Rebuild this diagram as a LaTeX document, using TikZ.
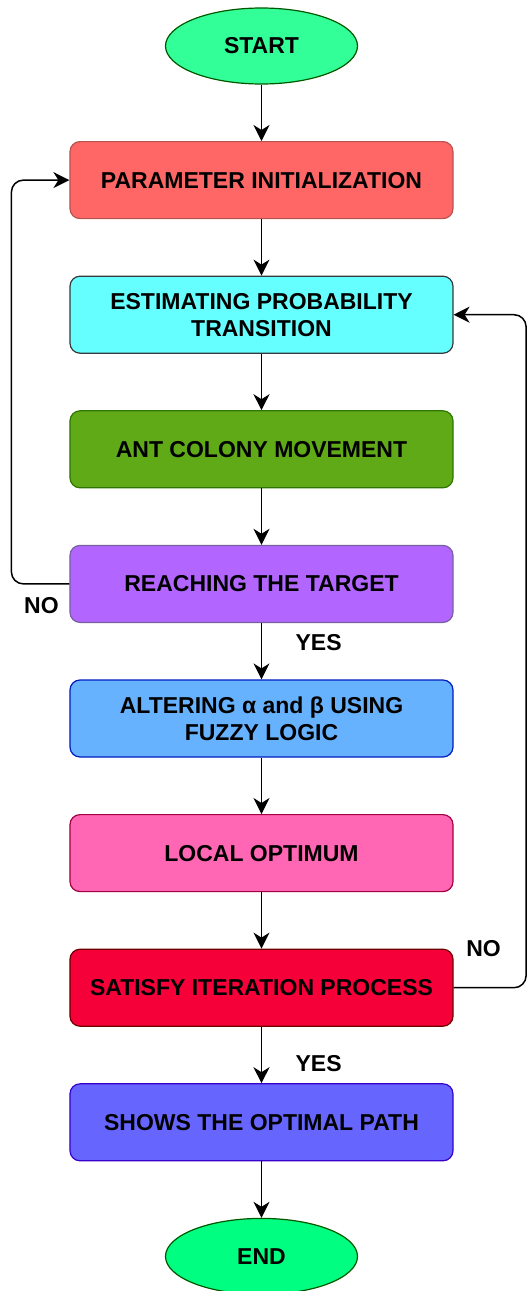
\documentclass[tikz,border=0pt]{standalone}
\usepackage{fontspec}
\setmainfont{Liberation Sans}
\usepackage{xcolor}
\usetikzlibrary{shapes.geometric, arrows.meta, positioning, calc}

\definecolor{termfill}{HTML}{33FF99}
\definecolor{endfill}{HTML}{00FF80}
\definecolor{termline}{HTML}{005700}
\definecolor{paramfill}{HTML}{FF6666}
\definecolor{paramline}{HTML}{B85450}
\definecolor{estfill}{HTML}{66FFFF}
\definecolor{estline}{HTML}{36393D}
\definecolor{antfill}{HTML}{60A917}
\definecolor{antline}{HTML}{2D7600}
\definecolor{reachfill}{HTML}{B266FF}
\definecolor{reachline}{HTML}{7760A0}
\definecolor{alterfill}{HTML}{66B2FF}
\definecolor{alterline}{HTML}{001DBC}
\definecolor{localfill}{HTML}{FF66B3}
\definecolor{localline}{HTML}{A50040}
\definecolor{satfill}{HTML}{F50038}
\definecolor{satline}{HTML}{6F0000}
\definecolor{showfill}{HTML}{6666FF}
\definecolor{showline}{HTML}{3700CC}

\begin{document}
\begin{tikzpicture}[
  node distance=56.4pt,
  box/.style  = {rectangle, rounded corners=10pt, line width=1.2pt,
                 font=\bfseries\fontsize{23}{27}\selectfont,
                 minimum height=77pt, minimum width=383pt, align=center},
  term/.style = {ellipse, line width=1.2pt, draw=termline,
                 font=\bfseries\fontsize{23}{27}\selectfont,
                 minimum height=76pt, minimum width=192pt, inner sep=0pt},
  arr/.style  = {-{Stealth[length=16pt,width=16pt,inset=5pt]}, line width=1.5pt, black},
  lbl/.style  = {font=\bfseries\fontsize{23}{27}\selectfont},
]
  \useasboundingbox (-261.5pt,46pt) rectangle (265.5pt,-1245pt);

  \node[term, fill=termfill] (start) at (0,0) {START};
  \node[box, draw=paramline, fill=paramfill, below=of start] (param) {PARAMETER INITIALIZATION};
  \node[box, draw=estline, fill=estfill, below=of param] (estimate) {ESTIMATING PROBABILITY\\TRANSITION};
  \node[box, draw=antline, fill=antfill, below=of estimate] (movement) {ANT COLONY MOVEMENT};
  \node[box, draw=reachline, fill=reachfill, below=of movement] (target) {REACHING THE TARGET};
  \node[box, draw=alterline, fill=alterfill, below=of target] (fuzzy) {ALTERING α and β USING\\FUZZY LOGIC};
  \node[box, draw=localline, fill=localfill, below=of fuzzy] (local) {LOCAL OPTIMUM};
  \node[box, draw=satline, fill=satfill, below=of local] (satisfy) {SATISFY ITERATION PROCESS};
  \node[box, draw=showline, fill=showfill, below=of satisfy] (path) {SHOWS THE OPTIMAL PATH};
  \node[term, fill=endfill, below=of path] (end) {END};

  \draw[arr] (start) -- (param);
  \draw[arr] (param) -- (estimate);
  \draw[arr] (estimate) -- (movement);
  \draw[arr] (movement) -- (target);
  \draw[arr] (target) -- node[lbl, pos=0.34, right=30pt] {YES} (fuzzy);
  \draw[arr] (fuzzy) -- (local);
  \draw[arr] (local) -- (satisfy);
  \draw[arr] (satisfy) -- node[lbl, pos=0.65, right=30pt] {YES} (path);
  \draw[arr] (path) -- (end);

  % feedback loops
  \draw[arr, rounded corners=12pt] (target.west) -- ++(-58pt,0) |- (param.west);
  \node[lbl] (no1) at ($(target.south west)+(-28pt,17pt)$) {NO};
  \draw[arr, rounded corners=12pt] (satisfy.east) -- ++(72.5pt,0) |- (estimate.east);
  \node[lbl] (no2) at ($(satisfy.north east)+(30pt,0pt)$) {NO};
\end{tikzpicture}
\end{document}
